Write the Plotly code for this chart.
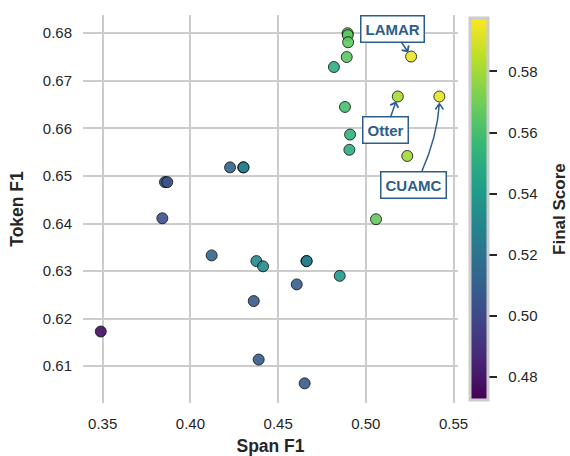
import plotly.graph_objects as go

span_f1 = [0.3489, 0.3840, 0.3855, 0.3868, 0.4121, 0.4226, 0.4301, 0.4303,
           0.4376, 0.4414, 0.4361, 0.4389, 0.4606, 0.4651, 0.4661, 0.4663,
           0.4851, 0.5058, 0.4896, 0.4897, 0.4899, 0.4891, 0.4818, 0.4881,
           0.4910, 0.4906, 0.5236, 0.5182, 0.5258, 0.5419]
token_f1 = [0.6173, 0.6411, 0.6487, 0.6487, 0.6333, 0.6518, 0.6518, 0.6518,
            0.6321, 0.6310, 0.6237, 0.6114, 0.6272, 0.6064, 0.6321, 0.6321,
            0.6290, 0.6409, 0.6800, 0.6796, 0.6781, 0.6750, 0.6729, 0.6645,
            0.6587, 0.6555, 0.6542, 0.6667, 0.6751, 0.6667]
final_score = [0.477, 0.503, 0.506, 0.504, 0.513, 0.512, 0.527, 0.528,
               0.531, 0.532, 0.508, 0.508, 0.510, 0.508, 0.527, 0.526,
               0.540, 0.567, 0.566, 0.565, 0.566, 0.565, 0.551, 0.560,
               0.553, 0.550, 0.580, 0.581, 0.594, 0.593]

labels = ["LAMAR", "Otter", "CUAMC"]
label_idx = [28, 27, 29]

x_ticks = [0.35, 0.40, 0.45, 0.50, 0.55]
y_ticks = [0.61, 0.62, 0.63, 0.64, 0.65, 0.66, 0.67, 0.68]
cb_ticks = [0.48, 0.50, 0.52, 0.54, 0.56, 0.58]

FONT = "Liberation Sans, Arial, sans-serif"
ANN = "#2d5e8b"
TXT = "#262626"

fig = go.Figure()
fig.add_trace(go.Scatter(
    x=span_f1, y=token_f1, mode="markers",
    marker=dict(
        size=11, color=final_score, colorscale="Viridis",
        cmin=0.4725, cmax=0.5975, opacity=0.9,
        line=dict(color="rgba(0,0,0,0.85)", width=1),
        colorbar=dict(
            tickvals=cb_ticks,
            ticktext=["\u00a0\u00a0" + f"{v:.2f}" for v in cb_ticks],
            ticks="outside", ticklen=8, tickwidth=2, tickcolor=TXT,
            tickfont=dict(size=15, color=TXT, family=FONT),
            thickness=18, len=0.985, lenmode="fraction", y=0.5, yanchor="middle",
            x=1.032, xanchor="left", xpad=0, ypad=0,
            outlinecolor="#cccccc", outlinewidth=3,
        ),
    ),
    showlegend=False, hoverinfo="skip",
))

# colour bar title
fig.add_annotation(
    xref="paper", yref="paper", x=1.269, y=0.5, xanchor="center", yanchor="middle",
    text="<b>Final Score</b>", textangle=-90, showarrow=False,
    font=dict(size=17, color=TXT, family=FONT),
)

offsets = {"LAMAR": (-19, -28), "Otter": (-12, 34)}
for name, i in zip(labels, label_idx):
    if name in offsets:
        ax, ay = offsets[name]
        fig.add_annotation(
            x=span_f1[i], y=token_f1[i], ax=ax, ay=ay,
            text=f"<b>{name}</b>", showarrow=True,
            arrowhead=4, arrowsize=1.1, arrowwidth=1.5, arrowcolor=ANN,
            standoff=5, startstandoff=0,
            font=dict(size=15, color=ANN, family=FONT),
            bgcolor="white", bordercolor=ANN, borderwidth=1.5, borderpad=4,
        )
    else:
        fig.add_shape(
            type="path", xref="x", yref="y", xsizemode="pixel", ysizemode="pixel",
            xanchor=span_f1[i], yanchor=token_f1[i],
            path="M -18,-76 Q -2,-40 0,-7 M -4,-13 L 0,-7 L 4,-13",
            line=dict(color=ANN, width=1.5),
        )
        fig.add_annotation(
            x=span_f1[i], y=token_f1[i], xshift=-26, yshift=-89,
            text=f"<b>{name}</b>", showarrow=False,
            font=dict(size=15, color=ANN, family=FONT),
            bgcolor="white", bordercolor=ANN, borderwidth=1.5, borderpad=4,
        )

fig.update_layout(
    width=570, height=456,
    margin=dict(l=83, r=112, t=15, b=53, autoexpand=False),
    paper_bgcolor="white", plot_bgcolor="white",
    font=dict(family=FONT, color=TXT),
    xaxis=dict(
        range=[0.33877, 0.55252], tickvals=x_ticks,
        ticktext=[f"{v:.2f}" for v in x_ticks], automargin=False,
        showgrid=True, gridcolor="#cccccc", gridwidth=2, zeroline=False,
        showline=False, ticks="", ticklabelstandoff=10,
        tickfont=dict(size=15, color=TXT),
        title=dict(text="<b>Span F1</b>", font=dict(size=17.5, color=TXT), standoff=8),
    ),
    yaxis=dict(
        range=[0.60227, 0.68383], tickvals=y_ticks,
        ticktext=[f"{v:.2f}" for v in y_ticks], automargin=False,
        showgrid=True, gridcolor="#cccccc", gridwidth=2, zeroline=False,
        showline=False, ticks="", ticklabelstandoff=10,
        tickfont=dict(size=15, color=TXT),
        title=dict(text="<b>Token F1</b>", font=dict(size=17.5, color=TXT), standoff=14),
    ),
)

fig.write_html("out.html", post_script="document.body.style.margin='0';",
               config={"displayModeBar": False})
